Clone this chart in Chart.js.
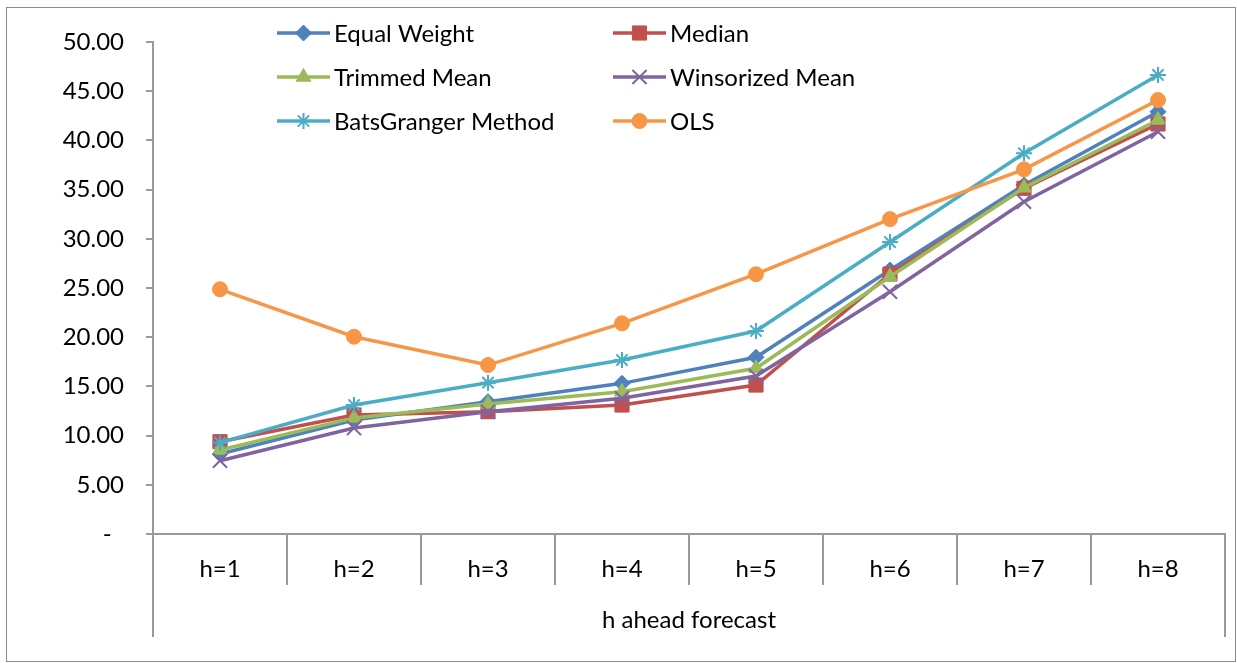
<!DOCTYPE html>
<html>
<head>
<meta charset="utf-8">
<script src="https://cdn.jsdelivr.net/npm/chart.js@4.4.1/dist/chart.umd.min.js"></script>
<style>
  html, body { margin: 0; padding: 0; background: #fff; }
</style>
</head>
<body>
<canvas id="forecastChart" width="1237" height="663"></canvas>
<script>
// forecast horizons
const categories = ['h=1', 'h=2', 'h=3', 'h=4', 'h=5', 'h=6', 'h=7', 'h=8'];

// series values
const equalWeight  = [8.13, 11.59, 13.45, 15.31, 17.96, 26.83, 35.47, 42.92];
const median       = [9.38, 12.10, 12.43, 13.11, 15.14, 26.42, 35.13, 41.67];
const trimmedMean  = [8.54, 11.80, 13.21, 14.46, 16.84, 26.15, 35.19, 42.07];
const winsorized   = [7.45, 10.77, 12.43, 13.79, 16.06, 24.62, 33.77, 40.88];
const batsGranger  = [9.28, 13.11, 15.38, 17.68, 20.63, 29.67, 38.69, 46.65];
const ols          = [24.87, 20.05, 17.17, 21.41, 26.40, 32.00, 37.06, 44.10];

const seriesNames = ['Equal Weight', 'Median', 'Trimmed Mean', 'Winsorized Mean', 'BatsGranger Method', 'OLS'];

// y axis
const yMin = 0, yMax = 50, yStep = 5;

const FONT = 'Lato, "Liberation Sans", sans-serif';
const FONT_SIZE = 24;
const AXIS_GREY = '#9a9a9a';

function makeSeries(label, data, color, pointStyle, radius, pbw, idx) {
    return {
        label,
        data,
        borderColor: color,
        backgroundColor: color,
        pointBackgroundColor: color,
        pointBorderColor: color,
        borderWidth: 3.5,
        pointStyle,
        pointRadius: radius,
        pointBorderWidth: pbw,
        tension: 0,
        order: 10 - idx   // later series drawn on top, like Excel
    };
}

const datasets = [
    makeSeries(seriesNames[0], equalWeight, '#4F81BD', 'rectRot', 8, 1, 0),
    makeSeries(seriesNames[1], median,      '#C0504D', 'rect', 10, 1, 1),
    makeSeries(seriesNames[2], trimmedMean, '#9BBB59', 'triangle', 8.5, 1, 2),
    makeSeries(seriesNames[3], winsorized,  '#8064A2', 'crossRot', 10, 2, 3),
    makeSeries(seriesNames[4], batsGranger, '#4BACC6', 'star', 8, 2, 4),
    makeSeries(seriesNames[5], ols,         '#F79646', 'circle', 7.5, 1, 5)
];

// outer chart frame
const framePlugin = {
    id: 'frame',
    beforeDraw(chart) {
        const ctx = chart.ctx;
        ctx.save();
        ctx.fillStyle = '#fff';
        ctx.fillRect(0, 0, chart.width, chart.height);
        ctx.strokeStyle = '#8c8c8c';
        ctx.lineWidth = 1;
        ctx.strokeRect(6.5, 7.5, chart.width - 8, chart.height - 9);
        ctx.restore();
    }
};

// long end lines under the category axis
const axisEndsPlugin = {
    id: 'axisEnds',
    afterDraw(chart) {
        const x = chart.scales.x;
        const ctx = chart.ctx;
        ctx.save();
        ctx.strokeStyle = AXIS_GREY;
        ctx.lineWidth = 2;
        ctx.beginPath();
        ctx.moveTo(x.left, x.top);
        ctx.lineTo(x.left, x.top + 103);
        ctx.moveTo(x.right, x.top);
        ctx.lineTo(x.right, x.top + 103);
        ctx.stroke();
        ctx.restore();
    }
};

// two-column legend laid over the plot, Excel style
const gridLegendPlugin = {
    id: 'gridLegend',
    afterDatasetsDraw(chart) {
        const ctx = chart.ctx;
        chart.data.datasets.forEach((ds, i) => {
            const col = i % 2, row = Math.floor(i / 2);
            const lx = 277 + col * 336;
            const ly = 33 + row * 44;
            ctx.save();
            ctx.strokeStyle = ds.borderColor;
            ctx.lineWidth = ds.borderWidth;
            ctx.beginPath();
            ctx.moveTo(lx, ly);
            ctx.lineTo(lx + 53, ly);
            ctx.stroke();
            ctx.fillStyle = ds.pointBackgroundColor;
            ctx.strokeStyle = ds.pointBorderColor;
            ctx.lineWidth = ds.pointBorderWidth;
            Chart.helpers.drawPoint(ctx, {
                pointStyle: ds.pointStyle,
                radius: ds.pointRadius,
                borderWidth: ds.pointBorderWidth,
                rotation: 0
            }, lx + 26.5, ly);
            ctx.fillStyle = '#000';
            ctx.font = FONT_SIZE + 'px ' + FONT;
            ctx.textBaseline = 'middle';
            ctx.textAlign = 'left';
            ctx.fillText(ds.label, lx + 57, ly + 1);
            ctx.restore();
        });
    }
};

new Chart('forecastChart', {
    type: 'line',
    data: { labels: categories, datasets },
    options: {
        responsive: false,
        animation: false,
        events: [],
        layout: { padding: { top: 42, right: 7, bottom: 0, left: 0 } },
        plugins: {
            legend: { display: false },
            tooltip: { enabled: false }
        },
        scales: {
            x: {
                type: 'category',
                offset: true,
                afterFit(scale) { scale.height = 129; },
                grid: {
                    offset: true,
                    drawOnChartArea: false,
                    tickLength: 51,
                    color: AXIS_GREY,
                    lineWidth: 2
                },
                border: { display: true, color: AXIS_GREY, width: 2 },
                ticks: {
                    color: '#000',
                    font: { family: FONT, size: FONT_SIZE },
                    padding: -30,
                    maxRotation: 0
                },
                title: {
                    display: true,
                    text: 'h ahead forecast',
                    color: '#000',
                    font: { family: FONT, size: FONT_SIZE },
                    padding: { top: 0, bottom: 28 }
                }
            },
            y: {
                min: yMin,
                max: yMax,
                afterFit(scale) { scale.width = 153; },
                grid: {
                    drawOnChartArea: false,
                    tickLength: 7,
                    color: AXIS_GREY,
                    lineWidth: 2
                },
                border: { display: true, color: AXIS_GREY, width: 2 },
                ticks: {
                    stepSize: yStep,
                    color: '#000',
                    font: { family: FONT, size: FONT_SIZE },
                    padding: 22,
                    callback: v => v === 0 ? '-  ' : v.toFixed(2)
                }
            }
        }
    },
    plugins: [framePlugin, axisEndsPlugin, gridLegendPlugin]
});
</script>
</body>
</html>
